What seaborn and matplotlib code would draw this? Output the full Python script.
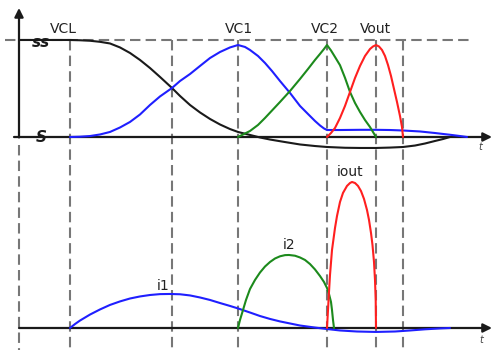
import matplotlib
matplotlib.use("Agg")
import matplotlib.pyplot as plt
import seaborn as sns

sns.set_style("white")
plt.rcParams["font.family"] = ["DejaVu Sans"]

# ---- switching instants (time units) ----
t_marks = [51, 153, 219, 308, 357, 384]

# ---- capacitor / output voltages (normalised to the clamp level) ----
vcl_t = [0, 51, 61, 71, 81, 91, 101, 111, 121, 131, 141, 153, 161, 171, 181, 191, 201, 211, 219, 231,
         241, 251, 266, 281, 296, 308, 326, 341, 357, 371, 384, 396, 406, 416, 424, 431]
vcl_v = [1.000, 1.000, 0.997, 0.992, 0.981, 0.964, 0.923, 0.866, 0.794, 0.711, 0.619, 0.505, 0.423,
         0.330, 0.253, 0.186, 0.129, 0.082, 0.052, 0.021, -0.005, -0.026, -0.052, -0.077, -0.093,
         -0.103, -0.111, -0.113, -0.113, -0.109, -0.103, -0.088, -0.067, -0.041, -0.021, 0.000]

vc1_t = [51, 61, 71, 81, 91, 101, 111, 121, 131, 141, 153, 161, 171, 181, 191, 201, 211, 219, 226, 231,
         239, 246, 253, 261, 271, 281, 289, 296, 301, 305, 308, 321, 341, 357, 371, 384, 401, 416, 431,
         441, 448]
vc1_v = [0.000, 0.003, 0.010, 0.026, 0.052, 0.098, 0.155, 0.232, 0.330, 0.418, 0.505, 0.577, 0.649,
         0.732, 0.814, 0.876, 0.923, 0.948, 0.928, 0.897, 0.835, 0.763, 0.680, 0.577, 0.454, 0.320,
         0.237, 0.165, 0.119, 0.088, 0.072, 0.072, 0.074, 0.074, 0.072, 0.067, 0.057, 0.041, 0.023,
         0.010, 0.000]

vc2_t = [219, 225, 231, 239, 246, 253, 261, 271, 281, 289, 296, 301, 305, 308, 312, 316, 321, 326, 331,
         336, 341, 346, 351, 357]
vc2_v = [0.000, 0.031, 0.062, 0.124, 0.196, 0.273, 0.361, 0.474, 0.598, 0.701, 0.794, 0.856, 0.907,
         0.948, 0.892, 0.825, 0.740, 0.610, 0.464, 0.351, 0.258, 0.175, 0.103, 0.000]

vout_t = [308, 312, 316, 321, 326, 331, 336, 341, 346, 351, 354, 357, 360, 363, 366, 369, 372, 375,
          378, 381, 383, 384]
vout_v = [0.000, 0.041, 0.093, 0.196, 0.320, 0.464, 0.608, 0.732, 0.835, 0.907, 0.933, 0.948, 0.933,
          0.897, 0.835, 0.742, 0.629, 0.495, 0.361, 0.216, 0.103, 0.000]

# ---- branch currents (normalised to the output current peak) ----
i1_t = [51, 56, 61, 71, 81, 91, 101, 111, 121, 131, 141, 151, 161, 171, 181, 191, 201, 211, 219, 231,
        241, 251, 261, 271, 281, 296, 308, 321, 338, 357, 376, 391, 406, 421, 431]
i1_v = [0.000, 0.027, 0.051, 0.092, 0.127, 0.158, 0.182, 0.202, 0.216, 0.226, 0.232, 0.233, 0.231,
        0.223, 0.209, 0.192, 0.171, 0.151, 0.134, 0.106, 0.082, 0.062, 0.045, 0.031, 0.017, 0.003,
        -0.007, -0.017, -0.024, -0.027, -0.024, -0.017, -0.009, -0.003, 0.000]

i2_t = [219, 221, 224, 227, 231, 236, 241, 246, 251, 256, 261, 266, 270, 276, 281, 286, 291, 296, 301,
        305, 308, 310, 312, 313, 314, 315]
i2_v = [0.000, 0.055, 0.123, 0.192, 0.267, 0.329, 0.380, 0.421, 0.452, 0.476, 0.491, 0.499, 0.500,
        0.495, 0.483, 0.466, 0.438, 0.401, 0.356, 0.315, 0.274, 0.233, 0.178, 0.123, 0.055, 0.000]

iout_t = [308, 309, 310, 311, 313, 316, 318, 321, 324, 328, 331, 333, 336, 339, 342, 345, 348, 350,
          352, 353.5, 355, 356, 356.7, 357]
iout_v = [0.000, 0.123, 0.247, 0.363, 0.534, 0.685, 0.767, 0.863, 0.925, 0.973, 0.993, 1.000, 0.993,
          0.973, 0.938, 0.884, 0.808, 0.740, 0.651, 0.568, 0.452, 0.329, 0.192, 0.000]

voltage_labels = ["VCL", "VC1", "VC2", "Vout"]
current_labels = ["i1", "i2", "iout"]

BLUE, GREEN, RED, BLACK = "#1f1fff", "#1c8a1c", "#ff1f1f", "#1a1a1a"
DASH = "#777777"
LW = 1.5

fig = plt.figure(figsize=(4.92, 3.5), dpi=100)
ax_v = fig.add_axes([0, 200 / 350, 1, 150 / 350])
ax_i = fig.add_axes([0, 0, 1, 200 / 350])
for ax in (ax_v, ax_i):
    ax.set_xlim(-19, 473)
    ax.set_axis_off()
    ax.patch.set_visible(False)
ax_v.set_ylim(-0.134, 1.412)
ax_i.set_ylim(-0.1507, 1.219)

dash_style = (0, (5, 2.5))
v_bottom = -2.196  # bottom edge of the figure in voltage units

# clamp-level reference and switching instants
ax_v.plot([-14, 454], [1, 1], color=DASH, lw=1.5, ls=dash_style, zorder=1)
for tm in t_marks:
    ax_v.plot([tm, tm], [1, v_bottom], color=DASH, lw=1.5, ls=dash_style, zorder=1, clip_on=False)
ax_v.plot([0, 0], [-0.082, v_bottom], color=DASH, lw=1.5, ls=dash_style, zorder=1, clip_on=False)

# voltage waveforms
sns.lineplot(x=vcl_t, y=vcl_v, ax=ax_v, color=BLACK, lw=LW, estimator=None, zorder=3)
sns.lineplot(x=vc1_t, y=vc1_v, ax=ax_v, color=BLUE, lw=LW, estimator=None, zorder=4)
sns.lineplot(x=vc2_t, y=vc2_v, ax=ax_v, color=GREEN, lw=LW, estimator=None, zorder=4)
sns.lineplot(x=vout_t, y=vout_v, ax=ax_v, color=RED, lw=LW, estimator=None, zorder=5)

# current waveforms
sns.lineplot(x=i1_t, y=i1_v, ax=ax_i, color=BLUE, lw=LW, estimator=None, zorder=4)
sns.lineplot(x=i2_t, y=i2_v, ax=ax_i, color=GREEN, lw=LW, estimator=None, zorder=4)
sns.lineplot(x=iout_t, y=iout_v, ax=ax_i, color=RED, lw=LW, estimator=None, zorder=5)

# axes with arrows
arrow = dict(arrowstyle="-|>", color=BLACK, lw=1.6, mutation_scale=13, shrinkA=0, shrinkB=0)
ax_v.annotate("", xy=(473, 0), xytext=(-5, 0), arrowprops=arrow, annotation_clip=False, zorder=2)
ax_v.annotate("", xy=(0, 1.33), xytext=(0, -0.005), arrowprops=arrow, annotation_clip=False, zorder=2)
ax_i.annotate("", xy=(473, 0), xytext=(0, 0), arrowprops=arrow, annotation_clip=False, zorder=2)

ax_v.text(461, -0.10, "t", fontsize=7, style="italic", color="#444444", ha="center", va="center")
ax_i.text(462, -0.085, "t", fontsize=7, style="italic", color="#444444", ha="center", va="center")

# axis-break marks
ax_v.text(22, 0.97, "ss", fontsize=11, fontweight="bold", style="italic", color=BLACK, ha="center",
          va="center", zorder=6)
ax_v.text(22, -0.01, "S", fontsize=11, fontweight="bold", style="italic", color=BLACK, ha="center",
          va="center", zorder=6)

# waveform labels
txt = dict(fontsize=10, color="#222222", ha="center", va="center")
for lab, (tx, vy) in zip(voltage_labels, [(44, 1.11), (220, 1.11), (306, 1.11), (356, 1.11)]):
    ax_v.text(tx, vy, lab, **txt)
for lab, (tx, iy) in zip(current_labels, [(144, 0.288), (270, 0.568), (331, 1.065)]):
    ax_i.text(tx, iy, lab, **txt)

fig.savefig("out.png", dpi=100)
